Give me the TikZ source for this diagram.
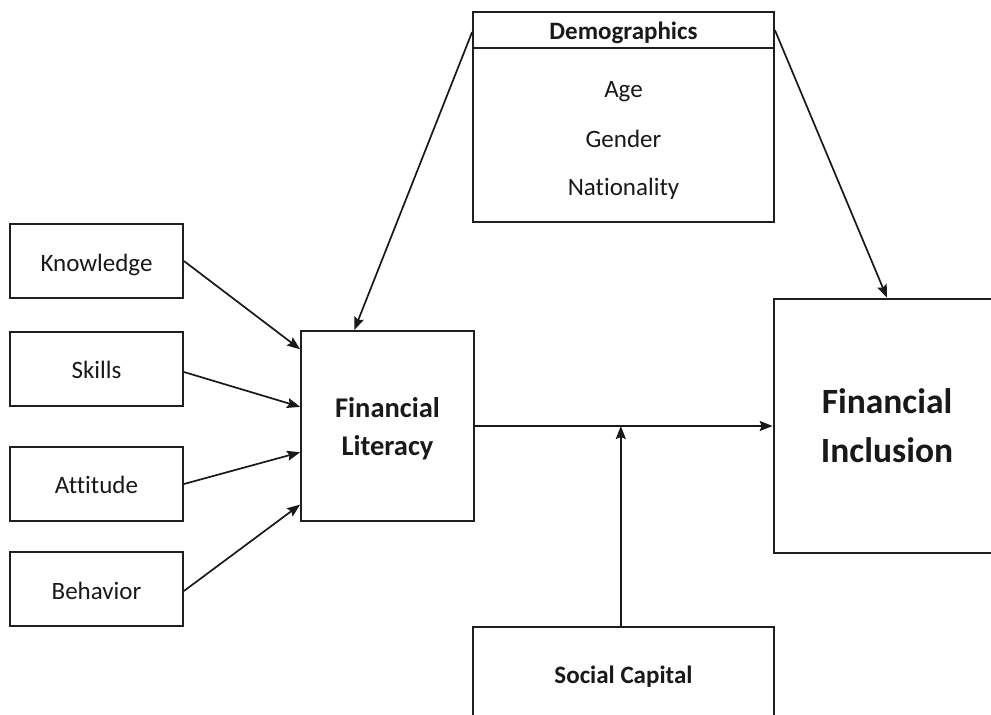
\documentclass[tikz,border=0pt]{standalone}
\usepackage{fontspec}
\setmainfont{Carlito}[Ligatures={NoCommon,NoContextual}]
\usetikzlibrary{calc,arrows.meta}
\begin{document}
\begin{tikzpicture}[x=1pt,y=-1pt,
  box/.style={draw=black!88,line width=1.8pt,rectangle,inner sep=0pt},
  lbl/.style={font=\fontsize{25}{30}\selectfont,text=black!90,anchor=base,inner sep=0pt},
  hd/.style={lbl,font=\fontsize{25}{30}\selectfont\bfseries},
  conn/.style={line width=1.7pt,draw=black!90,-{Stealth[length=13pt,width=10pt,inset=2pt]}}]
\fill[white] (0,0) rectangle (991,715);
\clip (0,0) rectangle (991,715);

% antecedent dimensions
\node[box,minimum width=173pt,minimum height=74pt] (know) at (96.5,261) {};
\node[box,minimum width=173pt,minimum height=74pt] (skill) at (96.5,369) {};
\node[box,minimum width=173pt,minimum height=74pt] (att) at (96.5,484) {};
\node[box,minimum width=173pt,minimum height=74pt] (beh) at (96.5,589) {};
\node[lbl] (knowt) at (96.5,271) {Knowledge};
\node[lbl] (skillt) at (96.5,378) {Skills};
\node[lbl] (attt) at (96.5,493) {Attitude};
\node[lbl] (beht) at (96.5,599) {Behavior};

% financial literacy
\node[box,minimum width=173pt,minimum height=190pt] (fl) at (387.5,426) {};
\node[lbl,font=\fontsize{28.5}{34}\selectfont\bfseries] (flt1) at (387.5,417) {Financial};
\node[lbl,font=\fontsize{28.5}{34}\selectfont\bfseries] (flt2) at (387.5,455) {Literacy};

% financial inclusion
\node[box,line width=2.6pt,minimum width=226pt,minimum height=254pt] (fi) at (887,426) {};
\node[lbl,font=\fontsize{35.5}{42}\selectfont\bfseries] (fit1) at (887,413) {Financial};
\node[lbl,font=\fontsize{35.5}{42}\selectfont\bfseries] (fit2) at (887,462) {Inclusion};

% demographics
\node[box,minimum width=301pt,minimum height=210pt] (demo) at (623.5,117) {};
\draw[black!88,line width=1.8pt] ([yshift=-37pt]demo.north west) -- ([yshift=-37pt]demo.north east);
\node[hd] (demot) at (623.5,39) {Demographics};
\node[lbl] (age) at (623.5,97) {Age};
\node[lbl] (gender) at (623.5,147) {Gender};
\node[lbl] (nation) at (623.5,195) {Nationality};

% social capital
\node[box,minimum width=301pt,minimum height=113pt] (soc) at (623.5,683.5) {};
\node[hd] (soct) at (623.5,683) {Social Capital};

% connectors
\draw[conn] (know.east) -- ($(fl.north west)!0.1!(fl.south west)$);
\draw[conn] ([yshift=-3pt]skill.east) -- ($(fl.north west)!0.4!(fl.south west)$);
\draw[conn] (att.east) -- ($(fl.north west)!0.637!(fl.south west)$);
\draw[conn] ([yshift=-2pt]beh.east) -- ($(fl.north west)!0.91!(fl.south west)$);
\draw[conn] ([yshift=-21pt]demo.north west) -- ($(fl.north west)!0.31!(fl.north east)$);
\draw[conn] ([yshift=-19pt]demo.north east) -- (fi.north);
\draw[conn] (fl.east) -- (fi.west);
\coordinate (mid) at ($(fl.east)!0.49!(fi.west)$);
\draw[conn] (soc.north -| mid) -- (mid);
\end{tikzpicture}
\end{document}
